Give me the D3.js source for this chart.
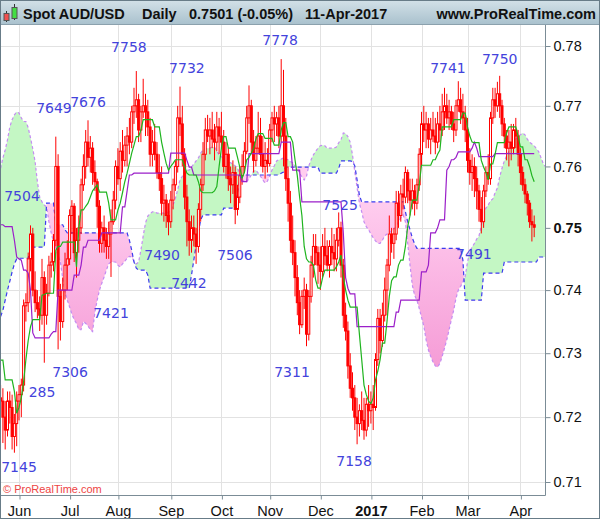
<!DOCTYPE html>
<html><head><meta charset="utf-8">
<script src="https://cdn.jsdelivr.net/npm/d3@7"></script>
<style>body{margin:0;background:#fff}svg{display:block}</style>
</head><body><svg id="c" width="600" height="519"></svg>
<script>
// ---- DATA (daily bars 20-May-2016 .. 11-Apr-2017) ----
const opens = [
.7230,.7225,.7200,.7180,.7225,.7215,.7170,.7190,
.7225,.7235,.7250,.7375,.7380,.7450,.7490,.7400,.7380,.7370,
.7360,.7420,.7360,.7395,.7440,.7445,.7480,.7600,.7390,.7350,
.7400,.7440,.7450,.7520,.7535,.7460,.7480,.7500,.7570,.7600,
.7640,.7615,.7630,.7590,.7575,.7535,.7475,.7500,.7480,.7470,
.7490,.7510,.7545,.7600,.7580,.7625,.7610,.7635,.7650,.7640,
.7690,.7700,.7710,.7660,.7690,.7700,.7690,.7665,.7620,.7640,
.7620,.7590,.7580,.7540,.7545,.7520,.7510,.7545,.7570,.7600,
.7680,.7670,.7620,.7550,.7510,.7480,.7500,.7490,.7470,.7530,
.7570,.7620,.7660,.7650,.7660,.7645,.7640,.7665,.7650,.7640,
.7600,.7620,.7580,.7570,.7590,.7530,.7550,.7585,.7600,.7625,
.7680,.7700,.7640,.7610,.7630,.7650,.7620,.7600,.7610,.7605,
.7660,.7680,.7670,.7680,.7650,.7700,.7650,.7580,.7540,.7480,
.7460,.7420,.7380,.7345,.7390,.7400,.7330,.7390,.7440,.7470,
.7460,.7440,.7430,.7470,.7455,.7440,.7470,.7460,.7450,.7480,
.7500,.7440,.7360,.7335,.7280,.7245,.7230,.7200,.7190,.7210,
.7195,.7180,.7220,.7210,.7220,.7215,.7290,.7355,.7320,.7360,
.7400,.7440,.7490,.7475,.7490,.7540,.7520,.7555,.7550,.7590,
.7560,.7545,.7560,.7540,.7570,.7620,.7670,.7660,.7670,.7645,
.7660,.7650,.7640,.7670,.7660,.7690,.7700,.7680,.7690,.7670,
.7660,.7700,.7710,.7690,.7680,.7660,.7610,.7590,.7600,.7580,
.7560,.7530,.7510,.7560,.7590,.7580,.7680,.7710,.7700,.7720,
.7700,.7670,.7650,.7630,.7640,.7630,.7660,.7650,.7620,.7590,
.7570,.7555,.7540,.7510,.7505];
const highs = [
.7250,.7245,.7225,.7240,.7240,.7235,.7205,.7240,
.7250,.7260,.7385,.7395,.7460,.7504,.7500,.7430,.7400,.7390,
.7450,.7430,.7410,.7455,.7460,.7490,.7649,.7620,.7410,.7420,
.7460,.7480,.7530,.7545,.7540,.7500,.7520,.7580,.7620,.7660,
.7676,.7650,.7640,.7610,.7580,.7545,.7510,.7520,.7500,.7510,
.7530,.7560,.7610,.7630,.7640,.7660,.7650,.7665,.7680,.7700,
.7730,.7758,.7720,.7700,.7745,.7720,.7710,.7680,.7660,.7670,
.7640,.7620,.7600,.7570,.7555,.7540,.7560,.7580,.7610,.7700,
.7732,.7700,.7630,.7570,.7530,.7520,.7520,.7500,.7540,.7580,
.7640,.7680,.7685,.7680,.7690,.7670,.7690,.7680,.7690,.7660,
.7640,.7630,.7600,.7610,.7600,.7570,.7600,.7620,.7640,.7700,
.7734,.7710,.7660,.7650,.7690,.7680,.7650,.7640,.7630,.7670,
.7690,.7700,.7690,.7700,.7778,.7760,.7680,.7600,.7560,.7520,
.7480,.7440,.7400,.7400,.7420,.7410,.7400,.7455,.7490,.7490,
.7470,.7470,.7490,.7500,.7480,.7480,.7500,.7490,.7500,.7525,
.7510,.7450,.7380,.7350,.7300,.7270,.7250,.7230,.7220,.7240,
.7230,.7230,.7250,.7240,.7250,.7300,.7370,.7370,.7380,.7420,
.7450,.7520,.7500,.7500,.7560,.7560,.7570,.7580,.7600,.7595,
.7580,.7580,.7570,.7580,.7630,.7690,.7700,.7690,.7680,.7680,
.7690,.7680,.7690,.7700,.7720,.7730,.7720,.7710,.7700,.7690,
.7710,.7741,.7730,.7720,.7700,.7680,.7630,.7620,.7615,.7600,
.7570,.7550,.7570,.7600,.7620,.7690,.7730,.7730,.7740,.7750,
.7710,.7680,.7660,.7660,.7670,.7670,.7680,.7660,.7630,.7600,
.7580,.7560,.7545,.7530,.7520];
const lows = [
.7200,.7160,.7150,.7170,.7190,.7150,.7145,.7155,
.7195,.7200,.7240,.7350,.7365,.7430,.7390,.7365,.7355,.7335,
.7345,.7285,.7345,.7390,.7420,.7430,.7470,.7306,.7320,.7340,
.7385,.7400,.7440,.7490,.7445,.7420,.7460,.7490,.7560,.7580,
.7600,.7590,.7570,.7560,.7500,.7460,.7460,.7460,.7450,.7450,
.7421,.7505,.7530,.7570,.7560,.7590,.7600,.7600,.7620,.7630,
.7670,.7680,.7640,.7640,.7680,.7650,.7650,.7600,.7600,.7610,
.7580,.7560,.7520,.7510,.7500,.7488,.7500,.7530,.7560,.7590,
.7650,.7600,.7530,.7470,.7455,.7460,.7470,.7442,.7460,.7510,
.7560,.7610,.7640,.7620,.7630,.7610,.7625,.7620,.7630,.7590,
.7580,.7560,.7540,.7555,.7506,.7520,.7540,.7570,.7590,.7620,
.7670,.7620,.7590,.7600,.7620,.7600,.7590,.7580,.7590,.7600,
.7640,.7640,.7650,.7630,.7640,.7600,.7560,.7510,.7460,.7440,
.7390,.7360,.7330,.7340,.7370,.7311,.7320,.7380,.7420,.7440,
.7410,.7400,.7420,.7440,.7430,.7420,.7440,.7430,.7430,.7470,
.7420,.7340,.7320,.7260,.7230,.7210,.7180,.7158,.7170,.7180,
.7165,.7170,.7185,.7190,.7180,.7210,.7280,.7300,.7310,.7350,
.7360,.7430,.7460,.7450,.7480,.7500,.7510,.7530,.7540,.7540,
.7520,.7530,.7520,.7530,.7560,.7600,.7640,.7630,.7630,.7620,
.7640,.7620,.7630,.7640,.7650,.7660,.7670,.7660,.7660,.7640,
.7650,.7690,.7670,.7660,.7640,.7590,.7570,.7560,.7550,.7530,
.7510,.7491,.7500,.7550,.7570,.7570,.7670,.7680,.7690,.7680,
.7650,.7630,.7610,.7600,.7610,.7620,.7630,.7600,.7570,.7560,
.7540,.7520,.7500,.7478,.7485];
const closes = [
.7225,.7200,.7180,.7225,.7215,.7170,.7190,.7225,
.7235,.7250,.7375,.7380,.7450,.7490,.7400,.7380,.7370,.7360,
.7420,.7360,.7395,.7440,.7445,.7480,.7600,.7390,.7350,.7400,
.7440,.7450,.7520,.7535,.7460,.7480,.7500,.7570,.7600,.7640,
.7615,.7630,.7590,.7575,.7535,.7475,.7500,.7480,.7470,.7490,
.7510,.7545,.7600,.7580,.7625,.7610,.7635,.7650,.7640,.7690,
.7700,.7710,.7660,.7690,.7700,.7690,.7665,.7620,.7640,.7620,
.7590,.7580,.7540,.7545,.7520,.7510,.7545,.7570,.7600,.7680,
.7670,.7620,.7550,.7510,.7480,.7500,.7490,.7470,.7530,.7570,
.7620,.7660,.7650,.7660,.7645,.7640,.7665,.7650,.7640,.7600,
.7620,.7580,.7570,.7590,.7530,.7550,.7585,.7600,.7625,.7680,
.7700,.7640,.7610,.7630,.7650,.7620,.7600,.7610,.7605,.7660,
.7680,.7670,.7680,.7650,.7700,.7650,.7580,.7540,.7480,.7460,
.7420,.7380,.7345,.7390,.7400,.7330,.7390,.7440,.7470,.7460,
.7440,.7430,.7470,.7455,.7440,.7470,.7460,.7450,.7480,.7500,
.7440,.7360,.7335,.7280,.7245,.7230,.7200,.7190,.7210,.7195,
.7180,.7220,.7210,.7220,.7215,.7290,.7355,.7320,.7360,.7400,
.7440,.7490,.7475,.7490,.7540,.7520,.7555,.7550,.7590,.7560,
.7545,.7560,.7540,.7570,.7620,.7670,.7660,.7670,.7645,.7660,
.7650,.7640,.7670,.7660,.7690,.7700,.7680,.7690,.7670,.7660,
.7700,.7710,.7690,.7680,.7660,.7610,.7590,.7600,.7580,.7560,
.7530,.7510,.7560,.7590,.7580,.7680,.7710,.7700,.7720,.7700,
.7670,.7650,.7630,.7640,.7630,.7660,.7650,.7620,.7590,.7570,
.7555,.7540,.7510,.7505,.7501];
// Ichimoku lines
const tenkan = [
.7289,.7289,.7258,.7258,.7258,.7258,.7240,.7206,
.7215,.7230,.7255,.7290,.7320,.7342,.7353,.7353,.7353,.7353,
.7392,.7393,.7395,.7395,.7395,.7395,.7464,.7470,.7470,.7477,
.7477,.7477,.7477,.7477,.7477,.7437,.7500,.7529,.7529,.7535,
.7540,.7550,.7560,.7565,.7570,.7558,.7558,.7558,.7558,.7540,
.7513,.7513,.7513,.7529,.7540,.7557,.7575,.7589,.7605,.7622,
.7635,.7649,.7649,.7660,.7677,.7677,.7677,.7677,.7677,.7665,
.7665,.7665,.7640,.7622,.7605,.7594,.7600,.7605,.7611,.7611,
.7611,.7611,.7600,.7589,.7586,.7586,.7586,.7586,.7575,.7560,
.7557,.7557,.7557,.7557,.7557,.7560,.7567,.7600,.7630,.7649,
.7649,.7630,.7630,.7630,.7630,.7615,.7599,.7581,.7590,.7611,
.7615,.7622,.7630,.7645,.7654,.7654,.7654,.7646,.7646,.7646,
.7646,.7635,.7635,.7635,.7660,.7672,.7672,.7649,.7649,.7640,
.7611,.7585,.7550,.7520,.7470,.7450,.7445,.7445,.7440,.7416,
.7403,.7403,.7420,.7432,.7432,.7432,.7432,.7432,.7437,.7445,
.7456,.7421,.7400,.7384,.7373,.7373,.7373,.7373,.7330,.7290,
.7250,.7235,.7225,.7221,.7230,.7258,.7272,.7290,.7316,.7316,
.7350,.7390,.7415,.7421,.7421,.7440,.7448,.7448,.7470,.7502,
.7520,.7545,.7545,.7545,.7570,.7602,.7602,.7602,.7602,.7602,
.7611,.7611,.7620,.7627,.7665,.7665,.7665,.7665,.7665,.7677,
.7677,.7677,.7677,.7688,.7688,.7665,.7650,.7640,.7639,.7639,
.7639,.7610,.7599,.7590,.7578,.7604,.7604,.7620,.7639,.7639,
.7639,.7639,.7655,.7665,.7665,.7665,.7665,.7650,.7632,.7632,
.7611,.7611,.7600,.7585,.7575];
const kijun = [
.7505,.7505,.7502,.7502,.7502,.7502,.7480,.7453,
.7450,.7448,.7432,.7432,.7427,.7400,.7332,.7324,.7324,.7324,
.7324,.7324,.7324,.7324,.7330,.7334,.7334,.7400,.7400,.7400,
.7400,.7400,.7400,.7400,.7424,.7424,.7424,.7440,.7469,.7469,
.7480,.7480,.7480,.7480,.7480,.7480,.7492,.7492,.7492,.7492,
.7492,.7492,.7492,.7492,.7492,.7534,.7534,.7560,.7586,.7586,
.7589,.7589,.7589,.7589,.7589,.7589,.7589,.7589,.7589,.7589,
.7589,.7589,.7589,.7589,.7589,.7589,.7622,.7622,.7622,.7622,
.7622,.7622,.7622,.7610,.7599,.7599,.7586,.7586,.7586,.7586,
.7586,.7586,.7586,.7586,.7586,.7586,.7586,.7586,.7586,.7586,
.7586,.7586,.7586,.7586,.7586,.7586,.7586,.7575,.7575,.7575,
.7621,.7621,.7621,.7621,.7621,.7621,.7621,.7621,.7621,.7621,
.7621,.7621,.7621,.7621,.7640,.7640,.7640,.7640,.7640,.7594,
.7594,.7594,.7594,.7542,.7542,.7542,.7542,.7542,.7542,.7542,
.7542,.7542,.7542,.7542,.7542,.7542,.7542,.7542,.7542,.7542,
.7542,.7492,.7420,.7403,.7394,.7394,.7394,.7342,.7342,.7342,
.7342,.7342,.7342,.7342,.7342,.7342,.7342,.7342,.7342,.7342,
.7342,.7342,.7342,.7342,.7365,.7365,.7384,.7384,.7384,.7384,
.7384,.7384,.7384,.7384,.7384,.7429,.7429,.7429,.7440,.7492,
.7492,.7492,.7500,.7513,.7513,.7513,.7594,.7600,.7611,.7611,
.7615,.7624,.7624,.7624,.7624,.7624,.7624,.7630,.7640,.7630,
.7616,.7616,.7616,.7616,.7616,.7616,.7616,.7621,.7621,.7621,
.7621,.7621,.7621,.7621,.7621,.7621,.7621,.7621,.7621,.7621,
.7621,.7621,.7621,.7621,.7621];
// Senkou spans (already displaced; run 5 bars past the last bar)
const spanA = [
.7597,.7614,.7627,.7644,.7665,.7677,.7685,.7690,
.7688,.7680,.7674,.7674,.7664,.7647,.7629,.7608,.7575,.7550,
.7542,.7537,.7534,.7510,.7492,.7477,.7467,.7456,.7445,.7419,
.7397,.7384,.7373,.7362,.7353,.7347,.7337,.7337,.7350,.7347,
.7343,.7337,.7334,.7365,.7384,.7400,.7411,.7421,.7432,.7442,
.7445,.7445,.7445,.7440,.7437,.7442,.7446,.7451,.7454,.7453,
.7446,.7442,.7445,.7464,.7487,.7508,.7519,.7523,.7526,.7526,
.7524,.7524,.7524,.7524,.7524,.7526,.7529,.7537,.7548,.7562,
.7578,.7584,.7592,.7594,.7594,.7599,.7604,.7609,.7614,.7622,
.7627,.7629,.7630,.7630,.7632,.7632,.7625,.7619,.7616,.7612,
.7609,.7608,.7606,.7604,.7601,.7597,.7588,.7578,.7576,.7575,
.7580,.7586,.7592,.7594,.7589,.7584,.7578,.7573,.7576,.7584,
.7594,.7601,.7609,.7611,.7612,.7614,.7612,.7611,.7608,.7606,
.7601,.7596,.7589,.7583,.7578,.7584,.7601,.7611,.7619,.7625,
.7630,.7634,.7635,.7634,.7630,.7630,.7630,.7630,.7632,.7639,
.7644,.7655,.7654,.7649,.7640,.7619,.7591,.7565,.7540,.7526,
.7510,.7502,.7497,.7490,.7484,.7479,.7475,.7475,.7480,.7487,
.7490,.7492,.7495,.7498,.7502,.7510,.7516,.7521,.7510,.7475,
.7440,.7408,.7392,.7384,.7371,.7357,.7343,.7321,.7305,.7295,
.7286,.7280,.7278,.7284,.7295,.7308,.7321,.7337,.7353,.7368,
.7387,.7400,.7406,.7413,.7422,.7445,.7461,.7469,.7475,.7482,
.7487,.7503,.7523,.7532,.7537,.7544,.7547,.7557,.7565,.7583,
.7597,.7609,.7617,.7625,.7634,.7640,.7645,.7649,.7652,.7655,
.7652,.7645,.7640,.7637,.7634,.7629,.7624,.7614,.7604,.7599];
const spanB = [
.7358,.7368,.7384,.7400,.7414,.7429,.7442,.7450,
.7451,.7451,.7451,.7451,.7451,.7469,.7469,.7469,.7469,.7469,
.7469,.7469,.7540,.7540,.7540,.7540,.7505,.7505,.7505,.7505,
.7497,.7492,.7492,.7492,.7492,.7492,.7492,.7492,.7492,.7492,
.7492,.7492,.7492,.7492,.7492,.7492,.7492,.7492,.7492,.7492,
.7492,.7492,.7492,.7492,.7492,.7492,.7492,.7492,.7480,.7464,
.7445,.7435,.7432,.7432,.7432,.7432,.7424,.7403,.7403,.7403,
.7403,.7403,.7403,.7403,.7403,.7403,.7403,.7403,.7403,.7403,
.7403,.7403,.7403,.7403,.7403,.7424,.7448,.7472,.7493,.7513,
.7521,.7521,.7521,.7521,.7521,.7521,.7521,.7521,.7521,.7532,
.7532,.7532,.7532,.7532,.7537,.7557,.7578,.7584,.7586,.7586,
.7586,.7586,.7586,.7586,.7586,.7586,.7586,.7586,.7586,.7586,
.7586,.7586,.7586,.7586,.7589,.7591,.7599,.7599,.7599,.7599,
.7599,.7599,.7599,.7599,.7599,.7599,.7599,.7599,.7599,.7599,
.7599,.7589,.7589,.7589,.7589,.7589,.7589,.7589,.7589,.7597,
.7609,.7609,.7609,.7609,.7609,.7608,.7601,.7578,.7553,.7542,
.7542,.7542,.7542,.7542,.7542,.7542,.7542,.7542,.7542,.7542,
.7542,.7542,.7542,.7542,.7542,.7542,.7542,.7542,.7526,.7510,
.7497,.7484,.7474,.7467,.7467,.7467,.7467,.7467,.7467,.7467,
.7467,.7467,.7467,.7467,.7467,.7467,.7467,.7467,.7467,.7467,
.7467,.7467,.7467,.7448,.7384,.7384,.7384,.7384,.7384,.7384,
.7384,.7384,.7427,.7427,.7427,.7427,.7427,.7427,.7427,.7427,
.7427,.7445,.7445,.7445,.7445,.7445,.7445,.7445,.7445,.7445,
.7445,.7445,.7445,.7445,.7445,.7445,.7453,.7453,.7453,.7453];
// axis values
const yTicks = [0.71,0.72,0.73,0.74,0.75,0.76,0.77,0.78];
const monthNames = ["Jan","Feb","Mar","Apr","May","Jun","Jul","Aug","Sep","Oct","Nov","Dec"];
// swing labels: text, bar index, price level
const labelTexts = ["7758","7732","7778","7741","7750","7649","7676","7504","7490","7442","7421","7306","285","7145","7506","7525","7311","7158","7491"];
const labelBars  = [55.8,81,121.5,194.5,217,23.2,38,9.3,70.2,81.9,48,30.2,18,8,101.9,147.6,126.7,153.7,205.8];
const labelPrices= [.7790,.7755,.7802,.7755,.7770,.7688,.7698,.7543,.7448,.7403,.7356,.7263,.7232,.7115,.7448,.7529,.7263,.7124,.7450];

// trading days (weekdays) for the category axis
const dates = [];
for (let d = new Date(Date.UTC(2016,4,20)); d <= new Date(Date.UTC(2017,3,11)); d.setUTCDate(d.getUTCDate()+1)) {
  const w = d.getUTCDay(); if (w > 0 && w < 6) dates.push(new Date(d));
}
const monthIdx = [];
for (let k = 1; k < dates.length; k++) if (dates[k].getUTCMonth() !== dates[k-1].getUTCMonth()) monthIdx.push(k);

// ---- LAYOUT ----
const P = {l:1, r:545, t:25, b:495};
const svg = d3.select("#c");
const x = d3.scaleLinear().domain([8, 232]).range([19, 534.2]);
const y = d3.scaleLog().domain([0.71, 0.78]).range([482, 46]);
const FONT = "'Liberation Sans', Arial, sans-serif";

const defs = svg.append("defs");
defs.append("clipPath").attr("id","plotClip").append("rect")
  .attr("x",P.l).attr("y",P.t).attr("width",P.r-P.l).attr("height",P.b-P.t);
const aboveB = d3.area().x((d,k)=>x(k)).y0(d=>y(d)).y1(P.t-20);
const belowB = d3.area().x((d,k)=>x(k)).y0(d=>y(d)).y1(P.b+20);
defs.append("clipPath").attr("id","aboveB").append("path").attr("d", aboveB(spanB));
defs.append("clipPath").attr("id","belowB").append("path").attr("d", belowB(spanB));
const tg = defs.append("linearGradient").attr("id","titleGrad").attr("x1",0).attr("y1",0).attr("x2",0).attr("y2",1);
tg.append("stop").attr("offset","0").attr("stop-color","#d3e1e8");
tg.append("stop").attr("offset","1").attr("stop-color","#a9c1cd");
const pg = defs.append("linearGradient").attr("id","pinkGrad").attr("gradientUnits","userSpaceOnUse")
  .attr("x1",0).attr("y1",200).attr("x2",0).attr("y2",370);
pg.append("stop").attr("offset","0").attr("stop-color","#ffcdef");
pg.append("stop").attr("offset","1").attr("stop-color","#f59bd6");

svg.append("rect").attr("width",600).attr("height",519).attr("fill","#fff");

// grid
const grid = svg.append("g");
grid.selectAll(".h").data(yTicks).join("line")
  .attr("x1",P.l).attr("x2",P.r).attr("y1",d=>Math.round(y(d))+0.5).attr("y2",d=>Math.round(y(d))+0.5)
  .attr("stroke","#e2e2e2");
grid.selectAll(".v").data(monthIdx).join("line")
  .attr("y1",P.t).attr("y2",P.b).attr("x1",d=>Math.round(x(d))+0.5).attr("x2",d=>Math.round(x(d))+0.5)
  .attr("stroke","#e2e2e2");

const plot = svg.append("g").attr("clip-path","url(#plotClip)");

// cloud
const band = d3.area().x((d,k)=>x(k)).y0(d=>y(d)).y1((d,k)=>y(spanB[k]));
plot.append("g").attr("clip-path","url(#aboveB)").append("path").attr("d",band(spanA)).attr("fill","#c4f7c4");
plot.append("g").attr("clip-path","url(#belowB)").append("path").attr("d",band(spanA)).attr("fill","url(#pinkGrad)");
const ln = d3.line().x((d,k)=>x(k)).y(d=>y(d));
plot.append("path").attr("d",ln(spanA)).attr("fill","none").attr("stroke","#c48cf2").attr("stroke-width",1.2).attr("stroke-dasharray","3,2.5");
plot.append("path").attr("d",ln(spanB)).attr("fill","none").attr("stroke","#3b3bef").attr("stroke-width",1.2).attr("stroke-dasharray","4,3");

// candles
const cg = plot.append("g");
const idx = d3.range(opens.length);
cg.selectAll("line").data(idx).join("line")
  .attr("x1",k=>x(k)).attr("x2",k=>x(k)).attr("y1",k=>y(highs[k])).attr("y2",k=>y(lows[k]))
  .attr("stroke","#ff0000").attr("stroke-width",1);
cg.selectAll("rect").data(idx).join("rect")
  .attr("x",k=>x(k)-1).attr("width",2)
  .attr("y",k=>y(Math.max(opens[k],closes[k])))
  .attr("height",k=>Math.max(0.5,Math.abs(y(opens[k])-y(closes[k]))))
  .attr("fill",k=>closes[k]>=opens[k]?"#ffffff":"#ff0000")
  .attr("stroke","#ff0000").attr("stroke-width",1);

// tenkan / kijun
plot.append("path").attr("d",ln(kijun)).attr("fill","none").attr("stroke","#9b1fc9").attr("stroke-width",1.2);
plot.append("path").attr("d",ln(tenkan)).attr("fill","none").attr("stroke","#1fb41f").attr("stroke-width",1.2);

// swing labels
svg.append("g").selectAll("text").data(labelTexts).join("text")
  .attr("x",(d,i)=>x(labelBars[i])).attr("y",(d,i)=>y(labelPrices[i]))
  .attr("text-anchor","middle").attr("font-family","'DejaVu Sans', sans-serif").attr("font-size",14)
  .attr("fill","#4343dc").text(d=>d);

// copyright
svg.append("text").attr("x",3).attr("y",493).attr("font-family",FONT).attr("font-size",11)
  .attr("fill","#ee4444").text("© ProRealTime.com");

// axes
const yAxis = d3.axisRight(y).tickValues(yTicks).tickSize(5).tickPadding(3).tickSizeOuter(0).tickFormat(d3.format(".2f"));
const ya = svg.append("g").attr("transform",`translate(${P.r+0.5},0)`).call(yAxis);
ya.select(".domain").remove();
ya.selectAll("line").attr("stroke","#7b8c96");
ya.selectAll("text").attr("font-family",FONT).attr("font-size",14.5).attr("fill","#111")
  .attr("font-weight",d=>d===0.75?"bold":"normal");
const xAxis = d3.axisBottom(x).tickValues(monthIdx).tickSize(4).tickPadding(6).tickSizeOuter(0)
  .tickFormat(k => dates[k].getUTCMonth()===0 ? String(dates[k].getUTCFullYear()) : monthNames[dates[k].getUTCMonth()]);
const xa = svg.append("g").attr("transform",`translate(0,${P.b+0.5})`).call(xAxis);
xa.select(".domain").remove();
xa.selectAll("line").attr("stroke","#7b8c96").attr("transform","translate(0.5,0)");
xa.selectAll("text").attr("font-family",FONT).attr("font-size",14.5).attr("fill","#111")
  .attr("font-weight",k=>dates[k].getUTCMonth()===0?"bold":"normal");
svg.append("line").attr("x1",P.r+0.5).attr("x2",P.r+0.5).attr("y1",P.t).attr("y2",P.b+0.5).attr("stroke","#7b8c96");
svg.append("line").attr("x1",P.l).attr("x2",P.r+0.5).attr("y1",P.b+0.5).attr("y2",P.b+0.5).attr("stroke","#7b8c96");

// title bar
svg.append("rect").attr("x",0).attr("y",0).attr("width",600).attr("height",24.5).attr("fill","url(#titleGrad)");
svg.append("line").attr("x1",0).attr("x2",600).attr("y1",24.5).attr("y2",24.5).attr("stroke","#8ba1ad");
const ic = svg.append("g");
ic.append("line").attr("x1",6.5).attr("x2",6.5).attr("y1",11).attr("y2",22).attr("stroke","#333");
ic.append("rect").attr("x",4).attr("y",13.5).attr("width",5).attr("height",7).attr("fill","#f05050").attr("stroke","#555");
ic.append("line").attr("x1",14.5).attr("x2",14.5).attr("y1",4).attr("y2",20).attr("stroke","#333");
ic.append("rect").attr("x",12).attr("y",7.5).attr("width",5).attr("height",11).attr("fill","#44dd44").attr("stroke","#555");
const tt = svg.append("g").attr("font-family",FONT).attr("font-weight","bold").attr("font-size",14.5).attr("fill","#111");
tt.append("text").attr("x",23).attr("y",19).text("Spot AUD/USD");
tt.append("text").attr("x",142).attr("y",19).text("Daily");
tt.append("text").attr("x",189).attr("y",19).text("0.7501 (-0.05%)");
tt.append("text").attr("x",305).attr("y",19).text("11-Apr-2017");
tt.append("text").attr("x",596).attr("y",19).attr("text-anchor","end").text("www.ProRealTime.com");

// outer frame
svg.append("rect").attr("x",0.5).attr("y",0.5).attr("width",599).attr("height",518)
  .attr("fill","none").attr("stroke","#687c88");
</script>
</body></html>
